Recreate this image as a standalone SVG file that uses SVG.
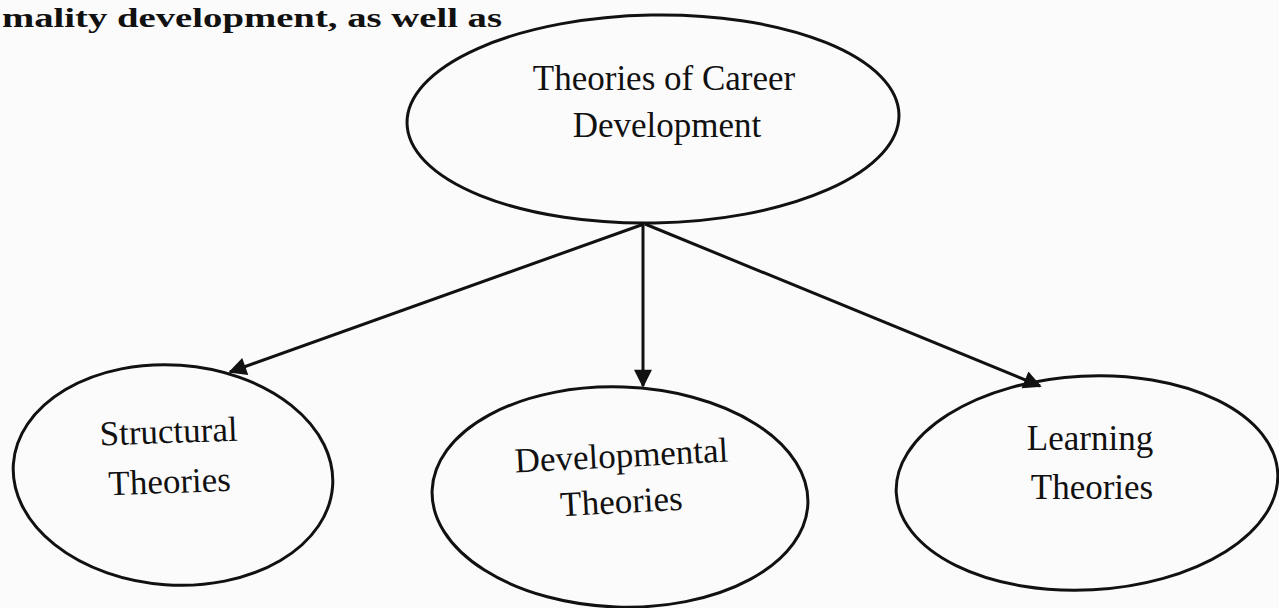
<svg xmlns="http://www.w3.org/2000/svg" width="1279" height="608" viewBox="0 0 1279 608">
<style>
.node{fill:none;stroke:#111;stroke-width:3}
.lbl{font-family:"Liberation Serif","Times New Roman",serif;font-size:35px;fill:#111;text-anchor:middle}
.edge{stroke:#111;stroke-width:3;fill:none}
.top{font-family:"Liberation Serif","Times New Roman",serif;font-size:28px;font-weight:bold;fill:#111}
</style>
<defs>
<marker id="ah" viewBox="0 0 10 10" refX="9" refY="5" markerWidth="7" markerHeight="6" orient="auto" markerUnits="strokeWidth">
<path d="M0,0 L10,5 L0,10 z" fill="#111"/>
</marker>
</defs>
<rect width="1279" height="608" fill="#fcfbfb"/>
<text class="top" x="2" y="27" textLength="500" lengthAdjust="spacingAndGlyphs">mality development, as well as</text>
<g id="connectors">
<line class="edge" x1="644" y1="224" x2="230" y2="372" marker-end="url(#ah)"/>
<line class="edge" x1="643" y1="224" x2="643" y2="386" marker-end="url(#ah)"/>
<line class="edge" x1="645" y1="224" x2="1040" y2="386" marker-end="url(#ah)"/>
</g>
<g id="root">
<ellipse class="node" cx="653" cy="119" rx="246" ry="104" transform="rotate(-1 653 119)"/>
<text class="lbl" x="664" y="90">Theories of Career</text>
<text class="lbl" x="667" y="137">Development</text>
</g>
<g id="structural">
<ellipse class="node" cx="173" cy="475" rx="160" ry="110" transform="rotate(4 173 475)"/>
<text class="lbl" x="169" y="443" transform="rotate(-2 169 443)">Structural</text>
<text class="lbl" x="170" y="493" transform="rotate(-2 170 493)">Theories</text>
</g>
<g id="developmental">
<ellipse class="node" cx="620" cy="497" rx="188" ry="110" transform="rotate(2 620 497)"/>
<text class="lbl" x="622" y="467" transform="rotate(-3 622 467)">Developmental</text>
<text class="lbl" x="622" y="513" transform="rotate(-3 622 513)">Theories</text>
</g>
<g id="learning">
<ellipse class="node" cx="1087" cy="483" rx="191" ry="107" transform="rotate(-3 1087 483)"/>
<text class="lbl" x="1090" y="450">Learning</text>
<text class="lbl" x="1092" y="499">Theories</text>
</g>
</svg>
